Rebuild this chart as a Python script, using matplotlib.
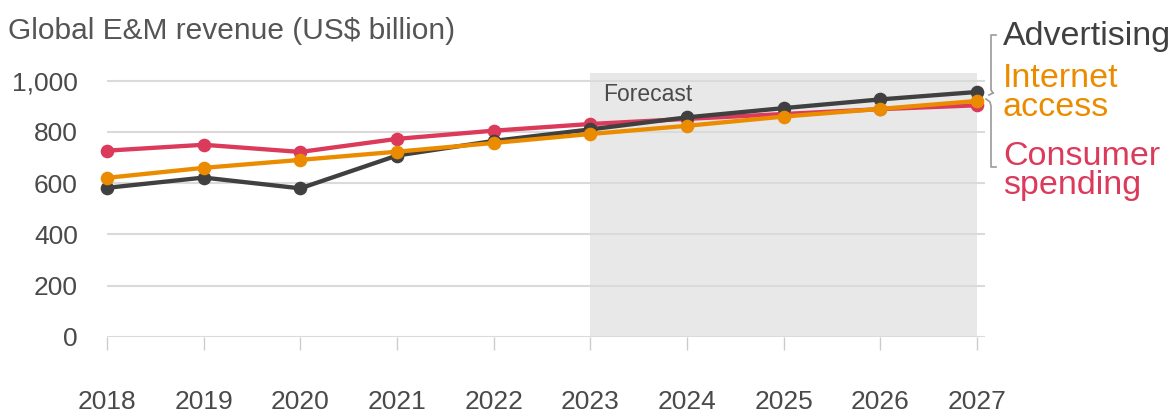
import matplotlib.pyplot as plt
from matplotlib.lines import Line2D

# data
years = [2018, 2019, 2020, 2021, 2022, 2023, 2024, 2025, 2026, 2027]
advertising = [582, 622, 580, 708, 765, 810, 857, 893, 927, 956]
internet = [621, 660, 691, 723, 757, 792, 824, 860, 890, 921]
consumer = [727, 750, 722, 773, 805, 831, 851, 870, 889, 904]
yticks = [0, 200, 400, 600, 800, 1000]
ytick_labels = ['0', '200', '400', '600', '800', '1,000']
forecast_start, forecast_end = 2023, 2027

DARK = '#404040'
ORANGE = '#eb8c00'
RED = '#db3a5a'
GREY_TXT = '#4a4a4a'

plt.rcParams['font.family'] = ['Liberation Sans', 'DejaVu Sans']

W, H = 1175, 415
fig = plt.figure(figsize=(W / 100, H / 100), dpi=100)
ax = fig.add_axes([107 / W, 1 - 337 / H, (985 - 107) / W, (337 - 73) / H])

ax.axvspan(forecast_start, forecast_end, color='#e8e8e8', zorder=0, lw=0)
ax.text(forecast_start + 0.13, 945, 'Forecast', fontsize=16.5, color=GREY_TXT,
        va='center', ha='left', zorder=1)

kw = dict(lw=3.1, marker='o', markersize=8.8, solid_capstyle='round', clip_on=False)
ax.plot(years, consumer, color=RED, zorder=3, **kw)
ax.plot(years, advertising, color=DARK, zorder=4, **kw)
ax.plot(years, internet, color=ORANGE, zorder=5, **kw)

ax.set_xlim(2018, 2027 + 8 / 96.7)
ax.set_ylim(0, 1030)
ax.set_yticks(yticks)
ax.set_yticklabels(ytick_labels)
ax.set_xticks(years)
ax.set_xticklabels([str(y) for y in years])
ax.grid(axis='y', color='#dadada', lw=1.5, zorder=0.5)
ax.set_axisbelow(True)
for s in ax.spines.values():
    s.set_visible(False)
ax.tick_params(axis='y', length=0, pad=21, labelsize=19, labelcolor=GREY_TXT)
ax.tick_params(axis='x', length=9.5, width=1, color='#cccccc', pad=29,
               labelsize=19, labelcolor=GREY_TXT)

fig.text(8 / W, 1 - 31 / H, 'Global E&M revenue (US$ billion)', fontsize=21.5,
         color='#555555', va='center', ha='left')

# legend labels on the right
fig.text(1003 / W, 1 - 36 / H, 'Advertising', fontsize=24.5, color=DARK,
         va='center', ha='left')
fig.text(1003 / W, 1 - 93 / H, 'Internet\naccess', fontsize=24.5, color=ORANGE,
         va='center', ha='left', linespacing=0.92)
fig.text(1003 / W, 1 - 171 / H, 'Consumer\nspending', fontsize=24.5, color=RED,
         va='center', ha='left', linespacing=0.92)


def px_line(xs, ys):
    fig.add_artist(Line2D([x / W for x in xs], [1 - y / H for y in ys],
                          transform=fig.transFigure, color='#9a9a9a', lw=1.2))


# brackets
px_line([996, 991, 991, 993], [35, 35, 90, 93])
px_line([993, 989], [93, 95])
px_line([986, 990, 991, 991, 996], [99, 102, 106, 167, 167])

fig.savefig('out.png', dpi=100)
